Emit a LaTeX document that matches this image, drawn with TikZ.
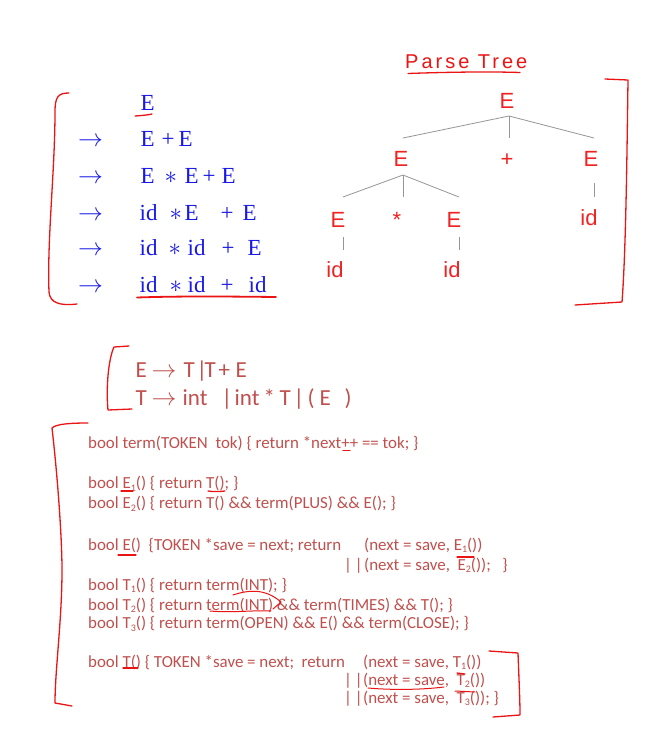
\documentclass[tikz,border=0pt]{standalone}
\usepackage{fontspec}
\usetikzlibrary{calc}
\newfontfamily\serfont{Liberation Serif}
\newfontfamily\sanfont{Liberation Sans}
\newfontfamily\calfont{Carlito}
\newfontfamily\handfont[LetterSpace=15]{Liberation Sans}
\definecolor{dblue}{RGB}{25,25,230}
\definecolor{tred}{RGB}{240,35,35}
\definecolor{cred}{RGB}{192,80,77}
\definecolor{pen}{RGB}{235,20,20}
\definecolor{egray}{RGB}{150,150,150}
\newcommand\tokat[2]{\rlap{\hspace*{#1pt}#2}}
\newcommand\sbs[1]{\raisebox{-2.5pt}{\fontsize{10}{10}\selectfont #1}}
\newcommand\garrow{{\fontsize{25}{25}\selectfont$\rightarrow$}}
\newcommand\bars{|\kern3pt|}
\tikzset{
  der/.style={anchor=base west, inner sep=0pt, text=dblue, font=\serfont\fontsize{23}{23}\selectfont},
  derarrow/.style={anchor=base west, inner sep=0pt, text=dblue, font=\fontsize{23}{23}\selectfont},
  tnode/.style={anchor=base, inner sep=0pt, text=tred, font=\sanfont\fontsize{22}{22}\selectfont},
  edge/.style={draw=egray, line width=0.8pt},
  gram/.style={anchor=base west, inner sep=0pt, text=cred, font=\calfont\fontsize{23}{23}\selectfont},
  code/.style={anchor=base west, inner sep=0pt, text=cred, font=\calfont\fontsize{16.9}{16.9}\selectfont},
  redpen/.style={draw=pen, line width=1.3pt, line cap=round, line join=round},
}
\begin{document}
\begin{tikzpicture}[x=1pt,y=-1pt]
\useasboundingbox[fill=white] (0,0) rectangle (658,731);
% derivation
\node[der] (d0) at (139,110.5) {\tokat{1}{E}};
\node[der] (d1) at (139,146.5) {\tokat{1}{E}\tokat{22}{+}\tokat{39}{E}};
\node[der] (d2) at (139,183.5) {\tokat{1}{E}\tokat{25}{$\ast$}\tokat{45}{E}\tokat{63}{+}\tokat{82}{E}};
\node[der] (d3) at (139,220.5) {\tokat{0}{id}\tokat{30}{$\ast$}\tokat{45}{E}\tokat{81}{+}\tokat{103}{E}};
\node[der] (d4) at (139,255.5) {\tokat{0}{id}\tokat{29}{$\ast$}\tokat{48}{id}\tokat{82}{+}\tokat{108}{E}};
\node[der] (d5) at (139,292.5) {\tokat{0}{id}\tokat{30}{$\ast$}\tokat{48}{id}\tokat{81}{+}\tokat{109}{id}};
\foreach \yy/\nm in {146.5/a1,183.5/a2,220.5/a3,255.5/a4,292.5/a5}
  \node[derarrow] (\nm) at (78,\yy) {$\rightarrow$};
\draw[redpen] (135,116) .. controls (142,115.5) and (148,115) .. (152,114);
\draw[redpen, line width=1.8pt] (137,297.5) .. controls (180,296) and (230,296.5) .. (276,297);
\draw[redpen] (69,93) .. controls (58,93) and (55,97) .. (55,112) .. controls (55,170) and (47,240) .. (49,292) .. controls (50,303) and (60,306) .. (77,304);
% parse tree
\node[anchor=base west, inner sep=0pt, text=pen, font=\handfont\fontsize{20}{20}\selectfont] (title) at (405,68) {Parse Tree};
\draw[redpen] (408,73.5) .. controls (450,72) and (490,71.5) .. (520,72.5);
\node[tnode] (r) at (507,108) {E};
\node[tnode] (e1) at (401,166) {E};
\node[tnode] (pl) at (507,166) {+};
\node[tnode] (e2) at (591,166) {E};
\node[tnode] (e11) at (338,227) {E};
\node[tnode] (st) at (397,227) {*};
\node[tnode] (e12) at (454,227) {E};
\node[tnode] (id2) at (589,225) {id};
\node[tnode] (id11) at (335,277) {id};
\node[tnode] (id12) at (452,277) {id};
\coordinate (rB) at ($(r.base)+(2,8)$);
\draw[edge] (rB) -- ($(e1.base)+(2,-28)$);
\draw[edge] (rB) -- ($(pl.base)+(2,-28)$);
\draw[edge] (rB) -- ($(e2.base)+(3,-28)$);
\coordinate (e1B) at ($(e1.base)+(2,9)$);
\draw[edge] (e1B) -- ($(e11.base)+(5,-30)$);
\draw[edge] (e1B) -- ($(st.base)+(6,-30)$);
\draw[edge] (e1B) -- ($(e12.base)+(5,-30)$);
\draw[edge] ($(e2.base)+(3,17)$) -- ($(id2.base)+(5,-28)$);
\draw[edge] ($(e11.base)+(5,10)$) -- ($(id11.base)+(8,-27)$);
\draw[edge] ($(e12.base)+(5,10)$) -- ($(id12.base)+(7,-27)$);
\draw[redpen] (605,79) -- (628,80) .. controls (627,150) and (626,250) .. (622,302) -- (575,305);
% grammar
\node[gram] (g1) at (133,377) {\tokat{2}{E}\tokat{18}{\garrow}\tokat{50}{T}\tokat{63}{|}\tokat{71}{T}\tokat{85}{+}\tokat{102}{E}};
\node[gram] (g2) at (133,405) {\tokat{2}{T}\tokat{18}{\garrow}\tokat{49}{int}\tokat{88}{|}\tokat{101}{int}\tokat{130}{*}\tokat{146}{T}\tokat{160}{|}\tokat{174}{(}\tokat{186}{E}\tokat{211}{)}};
\draw[redpen] (129,346) -- (114,347) .. controls (108,360) and (106,390) .. (108,410) -- (132,409);
% code
\node[code] (c1) at (88,448) {bool term(TOKEN\ \ tok) \{ return *next++ == tok; \}};
\node[code] (c2) at (88,488.5) {bool E\sbs{1}() \{ return T(); \}};
\node[code] (c3) at (88,508.5) {bool E\sbs{2}() \{ return T() \&\& term(PLUS) \&\& E(); \}};
\node[code] (c4a) at (88,550) {bool E()\ \ \{TOKEN *save = next; return};
\node[code] (c4b) at (364,550) {(next = save, E\sbs{1}())};
\node[code] (c5a) at (344,570) {\bars};
\node[code] (c5b) at (364,570) {(next = save,\ \ E\sbs{2}());\ \ \ \}};
\node[code] (c6) at (88,590) {bool T\sbs{1}() \{ return term(INT); \}};
\node[code] (c7) at (88,610) {bool T\sbs{2}() \{ return term(INT) \&\& term(TIMES) \&\& T(); \}};
\node[code] (c8) at (88,628.5) {bool T\sbs{3}() \{ return term(OPEN) \&\& E() \&\& term(CLOSE); \}};
\node[code] (c9a) at (88,667) {bool T() \{ TOKEN *save = next;\ \ return};
\node[code] (c9b) at (363,667) {(next = save, T\sbs{1}())};
\node[code] (c10a) at (344,685) {\bars};
\node[code] (c10b) at (363,685) {(next = save,\ \ T\sbs{2}())};
\node[code] (c11a) at (344,703) {\bars};
\node[code] (c11b) at (363,703) {(next = save,\ \ T\sbs{3}()); \}};
% annotations
\draw[redpen] (88,423) .. controls (70,423) and (56,424) .. (52,428) .. controls (58,480) and (62,540) .. (62,570) .. controls (62,620) and (55,670) .. (55,703) -- (72,706);
\draw[redpen] (343,450.5) -- (350,450.5);
\draw[redpen] (121,491) -- (133,491);
\draw[redpen] (208,491) .. controls (214,492) and (220,491.5) .. (225,491);
\draw[redpen] (118,555) -- (136,555);
\draw[redpen] (457,557) -- (474,557);
\draw[redpen, line width=1pt] (233,595) .. controls (248,590) and (265,588) .. (281,602) -- (273,609);
\draw[redpen, line width=1pt] (210,611) .. controls (233,613) and (253,610) .. (271,611);
\draw[redpen] (123,668) -- (138,668);
\draw[redpen] (457,673) -- (465,674);
\draw[redpen, line width=1pt] (368,688) .. controls (390,690) and (420,690) .. (444,687);
\draw[redpen, line width=1pt] (455,691) -- (475,692);
\draw[redpen] (489,651) -- (518,653) .. controls (519,680) and (520,700) .. (520,715) -- (493,717);
\end{tikzpicture}
\end{document}
